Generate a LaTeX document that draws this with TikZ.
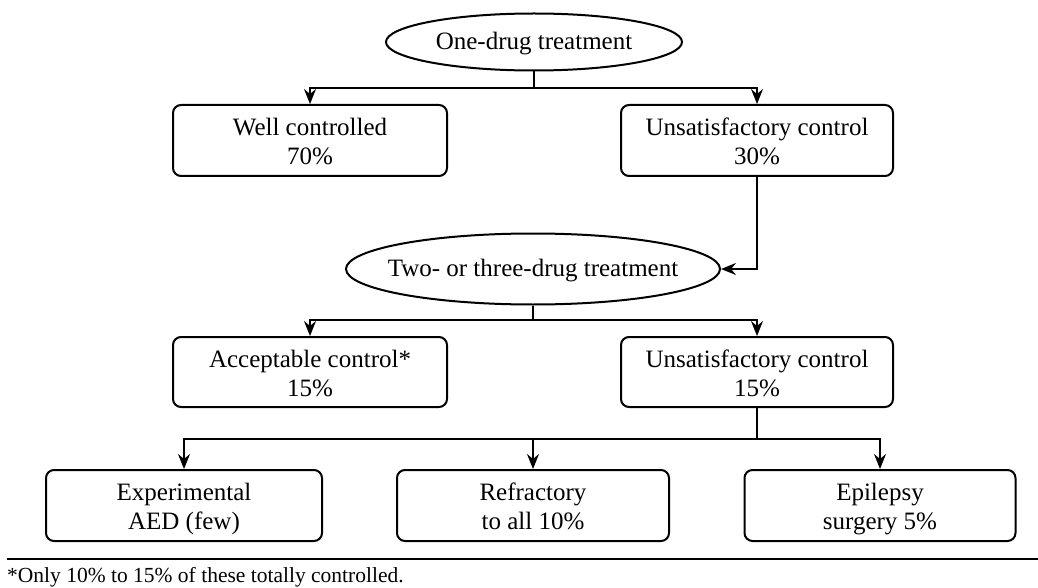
\documentclass[tikz,border=0pt]{standalone}
\usepackage{fontspec}
\setmainfont{Liberation Serif}
\usetikzlibrary{shapes.geometric,arrows.meta}
\begin{document}
\begin{tikzpicture}[x=1pt,y=-1pt,
  lbl/.style={font=\fontsize{25}{29}\selectfont, align=center, inner sep=0pt},
  oval/.style={ellipse, draw, line width=2pt, inner sep=0pt},
  stage/.style={lbl, text depth=0.7pt, draw, rounded corners=8pt, line width=2pt},
  link/.style={line width=1.6pt},
  flow/.style={link, -{Stealth[length=15pt,width=12pt,inset=5pt]}}]
\useasboundingbox (0,0) rectangle (1038,588);

% treatment stages: ovals are drawn at a fixed size, their labels on top
\node[oval, minimum width=296pt, minimum height=57pt] (e1) at (534,42) {};
\node[lbl] (t1) at ([yshift=-2pt]e1.center) {One-drug treatment};
\node[stage, minimum width=274pt, minimum height=71pt] (b1) at (310,140.5) {\strut Well controlled\\70\%};
\node[stage, minimum width=272pt, minimum height=71pt] (b2) at (757,140.5) {\strut Unsatisfactory control\\30\%};
\node[oval, minimum width=374pt, minimum height=71pt] (e2) at (533,269) {};
\node[lbl] (t2) at ([yshift=-2pt]e2.center) {Two- or three-drug treatment};
\node[stage, minimum width=274pt, minimum height=70pt] (b3) at (310,372) {\strut Acceptable control*\\15\%};
\node[stage, minimum width=272pt, minimum height=70pt] (b4) at (757,372) {\strut Unsatisfactory control\\15\%};
\node[stage, minimum width=276pt, minimum height=71pt] (b5) at (184,505.5) {\strut Experimental\\AED (few)};
\node[stage, minimum width=272pt, minimum height=71pt] (b6) at (533,505.5) {\strut Refractory\\to all 10\%};
\node[stage, minimum width=271pt, minimum height=71pt] (b7) at (880,505.5) {\strut Epilepsy\\surgery 5\%};

% branch points
\coordinate (j1) at (534,88);
\coordinate (j2) at (533,320);
\coordinate (j3) at (757,439);

% connectors
\draw[link] (e1.south) -- (j1);
\draw[flow] (j1) -| (b1.north);
\draw[flow] (j1) -| (b2.north);
\draw[flow] (b2.south) |- (e2.east);
\draw[link] (e2.south) -- (j2);
\draw[flow] (j2) -| (b3.north);
\draw[flow] (j2) -| (b4.north);
\draw[link] (b4.south) -- (j3);
\draw[flow] (j3) -| (b5.north);
\draw[flow] (j3) -| (b6.north);
\draw[flow] (j3) -| (b7.north);

% footnote
\coordinate (r1) at (7,559);
\coordinate (r2) at (1038,559);
\draw[line width=1.6pt] (r1) -- (r2);
\node[anchor=west, inner sep=0pt, font=\fontsize{21.5}{25}\selectfont] (fn) at (7,577) {*Only 10\% to 15\% of these totally controlled.};
\end{tikzpicture}
\end{document}
